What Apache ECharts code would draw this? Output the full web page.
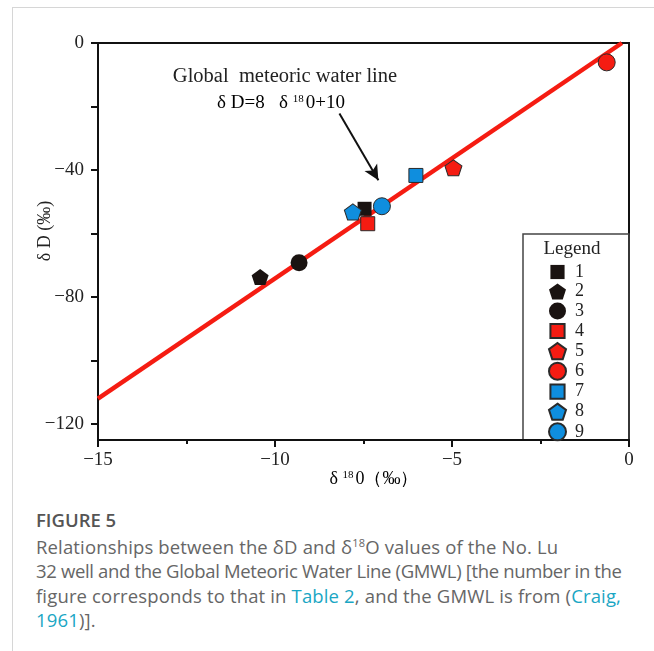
<!DOCTYPE html>
<html>
<head>
<meta charset="utf-8">
<script src="https://cdn.jsdelivr.net/npm/echarts@6/dist/echarts.min.js"></script>
<style>
html, body { margin: 0; padding: 0; background: #fff; }
body { width: 654px; height: 651px; position: relative; overflow: hidden; }
.card { position: absolute; left: 12px; top: 7px; right: -2px; bottom: -2px; border-left: 1px solid #d6d6d6; border-top: 1px solid #d6d6d6; }
#chart { position: absolute; left: 0; top: 0; width: 654px; height: 500px; }
.caption { position: absolute; left: 36px; top: 508px; width: 615px; font-family: "Open Sans", sans-serif; color: #666; font-size: 18.5px; line-height: 24.5px; letter-spacing: 0.15px; white-space: nowrap; }
.caption .fig { font-weight: 600; color: #555; font-size: 18.5px; letter-spacing: 0; margin-bottom: 2px; }
.caption a { color: #1aa6c4; text-decoration: none; }
.caption sup { font-size: 11px; line-height: 0; }
</style>
</head>
<body>
<div class="card"></div>
<div id="chart"></div>
<div class="caption">
  <div class="fig">FIGURE 5</div>
  Relationships between the δD and δ<sup>18</sup>O values of the No. Lu<br>
  <span style="letter-spacing:-0.35px">32 well and the Global Meteoric Water Line (GMWL) [the number in the</span><br>
  figure corresponds to that in <a>Table 2</a>, and the GMWL is from (<a>Craig,</a><br>
  <a>1961</a>)].
</div>
<script>
// sample numbers (Table 2) and the GMWL as drawn in the figure
const sampleNames = ['1', '2', '3', '4', '5', '6', '7', '8', '9'];
const d18O = [-7.47, -10.42, -9.32, -7.38, -4.96, -0.63, -6.02, -7.80, -6.98];
const dD = [-52.2, -73.7, -69.2, -56.9, -39.3, -6.1, -41.7, -53.2, -51.4];
const gmwlX = [-15, -0.2];
const gmwlY = [-112, 0];
const arrowFrom = [-8.18, -22.2];
const arrowTo = [-7.08, -43.2];
const yTicks = [0, -20, -40, -60, -80, -100, -120];
const yLabels = [0, -40, -80, -120];

const serif = '"Liberation Serif", "DejaVu Serif", serif';
const black = '#1a1311';
const red = '#f51c12';
const blue = '#0f8ede';
const pentagon = 'path://M50,0 L97.55,34.55 L79.39,90.45 L20.61,90.45 L2.45,34.55 Z';
const squareIcon = 'path://M-2,-2 M22,22 M0,0 L20,0 L20,20 L0,20 Z';
const shapes = ['rect', pentagon, 'circle', 'rect', pentagon, 'circle', 'rect', pentagon, 'circle'];
const legendIcons = [squareIcon, pentagon, 'circle', squareIcon, pentagon, 'circle', squareIcon, pentagon, 'circle'];
const sizes = { rect: [14, 14], circle: [17, 17] };
const colors = [black, black, black, red, red, red, blue, blue, blue];

const minus = v => String(v).replace('-', '\u2212');

let series = [{
    name: 'GMWL',
    type: 'line',
    data: gmwlX.map((x, i) => [x, gmwlY[i]]),
    symbol: 'none',
    lineStyle: { color: red, width: 4.5 },
    silent: true,
    z: 1,
    markLine: {
        silent: true,
        symbol: ['none', 'arrow'],
        symbolSize: [11, 15],
        label: { show: false },
        lineStyle: { color: '#111', width: 2, type: 'solid' },
        data: [[{ coord: arrowFrom }, { coord: arrowTo }]]
    }
}];
for (let i = 0; i < sampleNames.length; i++) {
    series.push({
        name: sampleNames[i],
        type: 'scatter',
        data: [[d18O[i], dD[i]]],
        symbol: shapes[i],
        symbolSize: sizes[shapes[i]] || [17, 16],
        itemStyle: {
            color: colors[i],
            borderColor: colors[i] === black ? black : '#2a2a2a',
            borderWidth: colors[i] === black ? 0 : 1,
            opacity: 1
        },
        z: 3
    });
}

const chart = echarts.init(document.getElementById('chart'));
chart.setOption({
    animation: false,
    grid: {
        left: 98, right: 25, top: 43, bottom: 60,
        show: true, borderColor: '#111', borderWidth: 2
    },
    xAxis: {
        type: 'value',
        position: 'bottom',
        min: -15, max: 0, interval: 5,
        axisLine: { show: true, onZero: false, lineStyle: { color: '#111', width: 2 } },
        axisTick: { show: true, length: 7, lineStyle: { color: '#111', width: 2 } },
        minorTick: { show: true, splitNumber: 2, length: 4, lineStyle: { color: '#111', width: 2 } },
        splitLine: { show: false },
        axisLabel: { margin: 11, color: '#222', fontFamily: serif, fontSize: 19, formatter: minus }
    },
    yAxis: {
        type: 'value',
        position: 'left',
        min: -125, max: 0,
        axisLine: { show: true, onZero: false, lineStyle: { color: '#111', width: 2 } },
        axisTick: { show: true, length: 7, customValues: yTicks, lineStyle: { color: '#111', width: 2 } },
        minorTick: { show: false },
        splitLine: { show: false },
        axisLabel: { margin: 14, color: '#222', fontFamily: serif, fontSize: 19, customValues: yLabels, formatter: minus }
    },
    legend: {
        orient: 'vertical',
        left: 548, top: 263,
        padding: 0,
        itemWidth: 17, itemHeight: 17,
        itemGap: 1.5,
        selectedMode: false,
        textStyle: { fontFamily: serif, fontSize: 18, color: '#222', lineHeight: 17, padding: [0, 0, 0, 4] },
        data: sampleNames.map((n, i) => ({ name: n, icon: legendIcons[i] }))
    },
    graphic: [
        { type: 'rect', shape: { x: 523, y: 234, width: 106, height: 206 }, style: { fill: 'none', stroke: '#444', lineWidth: 1.5 }, z: 0 },
        { type: 'text', x: 572, y: 249, style: { text: 'Legend', font: '19px ' + serif, fill: '#222', textAlign: 'center', textVerticalAlign: 'middle' } },
        { type: 'text', x: 285, y: 77, style: { text: 'Global  meteoric water line', font: '20.5px ' + serif, fill: '#222', textAlign: 'center', textVerticalAlign: 'middle' } },
        {
            type: 'text', x: 281, y: 103,
            style: {
                text: '{a|δ D=8   δ }{s|18}{a|0+10}',
                textAlign: 'center', textVerticalAlign: 'middle',
                rich: {
                    a: { fontFamily: serif, fontSize: 19, color: '#222' },
                    s: { fontFamily: serif, fontSize: 11, color: '#222', verticalAlign: 'top', padding: [0, 2, 0, 0] }
                }
            }
        },
        {
            type: 'text', x: 374, y: 479,
            style: {
                text: '{a|δ }{s|18}{a|0（‰）}',
                textAlign: 'center', textVerticalAlign: 'middle',
                rich: {
                    a: { fontFamily: serif, fontSize: 18, color: '#222' },
                    s: { fontFamily: serif, fontSize: 11, color: '#222', verticalAlign: 'top', padding: [0, 2, 0, 0] }
                }
            }
        },
        { type: 'text', x: 45, y: 231, rotation: Math.PI / 2, style: { text: 'δ D (‰)', font: '18px ' + serif, fill: '#222', textAlign: 'center', textVerticalAlign: 'middle' } }
    ],
    series: series
});
</script>
</body>
</html>
